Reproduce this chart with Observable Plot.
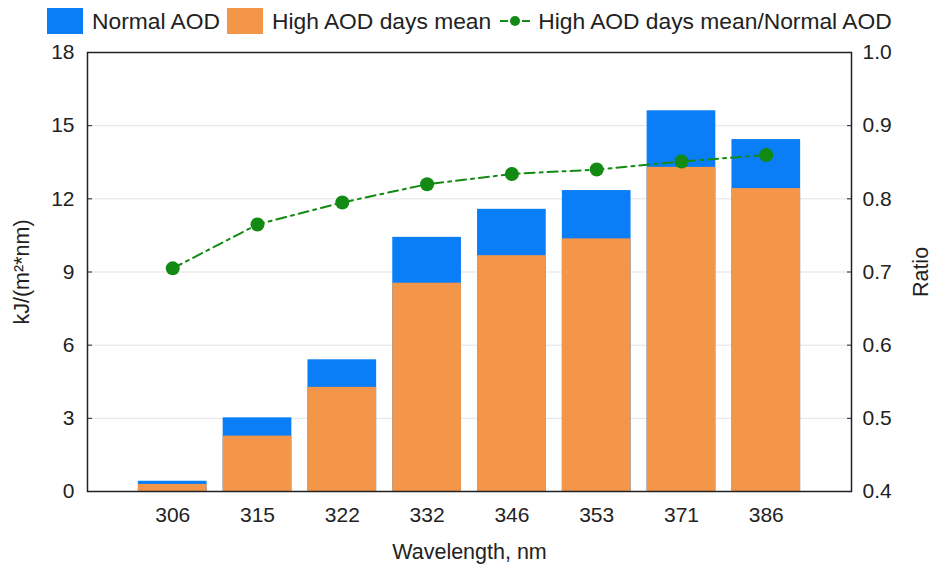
<!DOCTYPE html>
<html>
<head>
<meta charset="utf-8">
<script src="https://cdn.jsdelivr.net/npm/d3@7"></script>
<script src="https://cdn.jsdelivr.net/npm/@observablehq/plot@0.6"></script>
<style>
  body { margin: 0; background: #fff; font-family: "Liberation Sans", Arial, sans-serif; }
  #legend { height: 30px; padding-top: 6px; display: flex; align-items: center; padding-left: 47px; font-size: 22.8px; color: #222; }
  #legend .item { display: flex; align-items: center; margin-right: 7px; }
  #legend .sw { width: 36px; height: 26px; margin-right: 9px; }
  #legend svg { margin-right: 6px; }
</style>
</head>
<body>
<div id="legend"></div>
<div id="chart"></div>
<script>
// Wavelength bands and irradiance (kJ/(m²*nm)) for normal and high-AOD days
const wavelengths = ["306", "315", "322", "332", "346", "353", "371", "386"];
const normalAOD   = [0.42, 3.02, 5.40, 10.42, 11.57, 12.34, 15.61, 14.43];
const highAODMean = [0.29, 2.27, 4.27, 8.54, 9.67, 10.36, 13.29, 12.42];
const ratio       = [0.705, 0.765, 0.795, 0.820, 0.834, 0.840, 0.851, 0.860];

const leftTicks  = [0, 3, 6, 9, 12, 15, 18];
const ratioTicks = [0.4, 0.5, 0.6, 0.7, 0.8, 0.9, 1.0];

const blue = "#0a7ef7";
const orange = "#f4964a";
const green = "#138a13";

// Ratio axis spans 0.4–1.0 on the same vertical extent as 0–18
const ratioToY = r => (r - 0.4) / 0.6 * 18;

const rows = wavelengths.map((w, i) => ({
  w, normal: normalAOD[i], high: highAODMean[i], ratio: ratio[i]
}));

// Legend
const legend = document.getElementById("legend");
legend.innerHTML = `
  <div class="item"><div class="sw" style="background:${blue}"></div>Normal AOD</div>
  <div class="item"><div class="sw" style="background:${orange}"></div>High AOD days mean</div>
  <div class="item"><svg width="34" height="16">
    <line x1="2" y1="8" x2="10" y2="8" stroke="${green}" stroke-width="2"/>
    <line x1="24" y1="8" x2="32" y2="8" stroke="${green}" stroke-width="2"/>
    <circle cx="17" cy="8" r="5" fill="${green}"/></svg>High AOD days mean/Normal AOD</div>`;

const plot = Plot.plot({
  width: 932,
  height: 529,
  marginLeft: 87,
  marginRight: 81,
  marginTop: 16,
  marginBottom: 74,
  style: { fontFamily: "Liberation Sans, Arial, sans-serif", fontSize: "21px", color: "#222", background: "#fff", overflow: "visible" },
  x: { type: "band", domain: wavelengths, paddingInner: 0.19, paddingOuter: 0.6, round: false, label: null },
  y: { domain: [0, 18], label: null },
  marks: [
    Plot.ruleY(leftTicks.slice(1, -1), { stroke: "#e3e3e3", strokeWidth: 1 }),
    Plot.barY(rows, { x: "w", y: "normal", fill: blue }),
    Plot.barY(rows, { x: "w", y: "high", fill: orange }),
    Plot.line(rows, { x: "w", y: d => ratioToY(d.ratio), stroke: green, strokeWidth: 2, strokeDasharray: "10,5,3,5" }),
    Plot.dot(rows, { x: "w", y: d => ratioToY(d.ratio), r: 7, fill: green }),
    Plot.frame({ stroke: "#222", strokeWidth: 1.5 }),
    Plot.axisY(leftTicks, { anchor: "left", tickSize: -5, tickPadding: 18, fontSize: 21, label: null }),
    Plot.axisY(ratioTicks.map(ratioToY), {
      anchor: "right", tickSize: -5, tickPadding: 16, fontSize: 21, label: null,
      tickFormat: (d, i) => ratioTicks[i].toFixed(1)
    }),
    Plot.axisX({ tickSize: 0, tickPadding: 16, fontSize: 21, label: null }),
    Plot.text(["kJ/(m²*nm)"], { frameAnchor: "left", dx: -65, rotate: -90, textAnchor: "middle", lineAnchor: "middle", fontSize: 21.5, fill: "#222" }),
    Plot.text(["Ratio"], { frameAnchor: "right", dx: 70, rotate: -90, textAnchor: "middle", lineAnchor: "middle", fontSize: 21.5, fill: "#222" }),
    Plot.text(["Wavelength, nm"], { frameAnchor: "bottom", dy: 61, lineAnchor: "middle", fontSize: 21.5, fill: "#222" })
  ]
});
document.getElementById("chart").appendChild(plot);
</script>
</body>
</html>
